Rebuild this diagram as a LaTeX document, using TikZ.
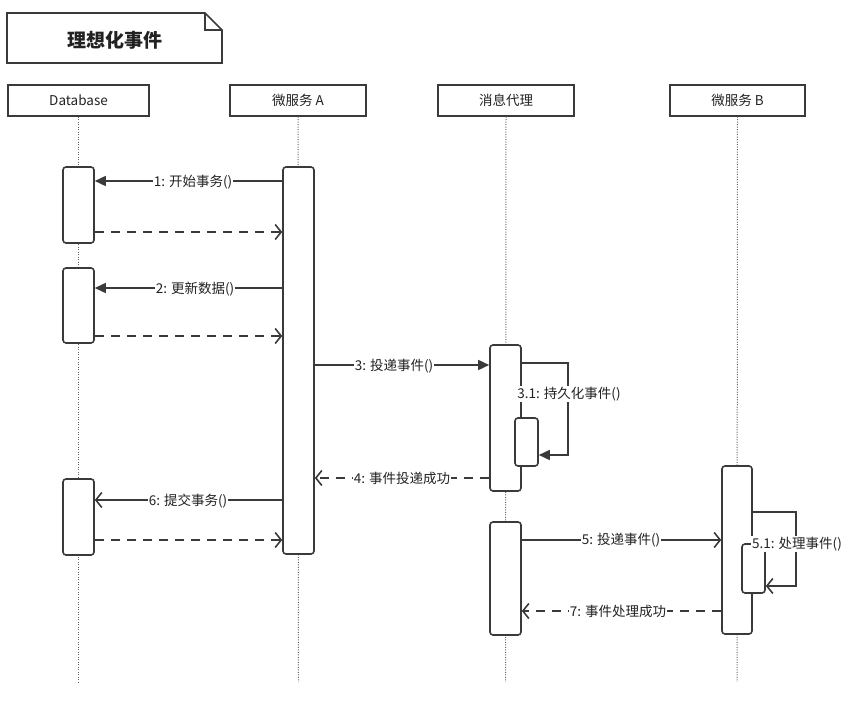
\documentclass[tikz,border=0pt]{standalone}
\usepackage{fontspec}
\setmainfont{Noto Sans CJK SC}
\usetikzlibrary{arrows.meta}
\definecolor{ln}{HTML}{3A3A3A}
\definecolor{tx}{HTML}{222222}
\tikzset{
  head/.style={draw=ln, line width=1.5pt, minimum height=31pt, inner sep=0pt, text=tx, font=\fontsize{13.5}{15}\selectfont},
  act/.style={draw=ln, fill=white, line width=1.6pt, rounded corners=3pt, minimum width=31pt, inner sep=0pt},
  nact/.style={act, minimum width=23pt},
  life/.style={draw=ln!80, line width=1pt, dash pattern=on 1pt off 1.5pt},
  msg/.style={draw=ln, line width=1.6pt},
  ret/.style={msg, dash pattern=on 9pt off 7pt},
  filltip/.style={-{Triangle[length=11pt,width=10pt]}},
  opentip/.style={-{Straight Barb[length=6pt,width=15pt]}},
  lbl/.style={fill=white, inner sep=1pt, text=tx, font=\fontsize{13.5}{15}\selectfont}
}
\begin{document}
\begin{tikzpicture}[x=1pt,y=-1pt]
\useasboundingbox (0,0) rectangle (855,703);
% title note
\draw[ln, line width=1.7pt] (7,13) coordinate (t1) -- (205,13) coordinate (t2) -- (222,30) coordinate (t3) -- (222,63) -- (7,63) -- cycle;
\draw[ln, line width=1.7pt] (t2) -- (205,30) -- (t3);
\node[text=tx, font=\fontsize{19}{21}\selectfont\bfseries] (title) at (115,40) {理想化事件};
% headers
\node[head, minimum width=141pt] (hDB) at (78.5,100.5) {Database};
\node[head, minimum width=136pt] (hA) at (298,100.5) {微服务 A};
\node[head, minimum width=136pt] (hQ) at (506,100.5) {消息代理};
\node[head, minimum width=135pt] (hB) at (737.5,100.5) {微服务 B};
% lifelines
\coordinate (eDB) at (78.5,682);
\coordinate (eA) at (298.5,682);
\coordinate (eQ) at (505.5,682);
\coordinate (eB) at (737,682);
\draw[life] (hDB.south) -- (eDB);
\draw[life] (hA.south) -- (eA);
\draw[life] (hQ.south) -- (eQ);
\draw[life] (hB.south) -- (eB);
% activations
\node[act, minimum height=76pt] (d1) at (78.5,205) {};
\node[act, minimum height=75pt] (d2) at (78.5,305.5) {};
\node[act, minimum height=76pt] (d3) at (78.5,517) {};
\node[act, minimum height=387pt] (aA) at (298.5,360.5) {};
\node[act, minimum height=146pt] (q1) at (505.5,418) {};
\node[nact, minimum height=48pt] (q1n) at (526.5,442) {};
\node[act, minimum height=113pt] (q2) at (505.5,578.5) {};
\node[act, minimum width=30pt, minimum height=168pt] (bB) at (737,550) {};
\node[nact, minimum height=49pt] (bBn) at (753.5,568.5) {};
% messages
\draw[msg, filltip] (aA.west |- 0,181) -- (d1.east |- 0,181);
\node[lbl] (l1) at (193,182) {1: 开始事务()};
\draw[ret, opentip] (d1.east |- 0,232) -- (aA.west |- 0,232);
\draw[msg, filltip] (aA.west |- 0,288) -- (d2.east |- 0,288);
\node[lbl] (l2) at (195,289) {2: 更新数据()};
\draw[ret, opentip] (d2.east |- 0,336) -- (aA.west |- 0,336);
\draw[msg, filltip] (aA.east |- 0,365) -- (q1.west |- 0,365);
\node[lbl] (l3) at (394,366) {3: 投递事件()};
\coordinate (s31a) at (568,363);
\coordinate (s31b) at (568,455);
\draw[msg, filltip] (q1.east |- s31a) -- (s31a) -- (s31b) -- (q1n.east |- s31b);
\node[lbl] (l31) at (569,394) {3.1: 持久化事件()};
\draw[ret, opentip] (q1.west |- 0,478) -- (aA.east |- 0,478);
\node[lbl] (l4) at (402,478) {4: 事件投递成功};
\draw[msg, opentip] (aA.west |- 0,500) -- (d3.east |- 0,500);
\node[lbl] (l6) at (188,501) {6: 提交事务()};
\draw[ret, opentip] (d3.east |- 0,540) -- (aA.west |- 0,540);
\draw[msg, opentip] (q2.east |- 0,540) -- (bB.west |- 0,540);
\node[lbl] (l5) at (621,540) {5: 投递事件()};
\coordinate (s51a) at (796,512);
\coordinate (s51b) at (796,586);
\draw[msg, opentip] (bB.east |- s51a) -- (s51a) -- (s51b) -- (bBn.east |- s51b);
\node[lbl] (l51) at (797,544) {5.1: 处理事件()};
\draw[ret, opentip] (bB.west |- 0,611) -- (q2.east |- 0,611);
\node[lbl] (l7) at (618,611) {7: 事件处理成功};
\end{tikzpicture}
\end{document}
